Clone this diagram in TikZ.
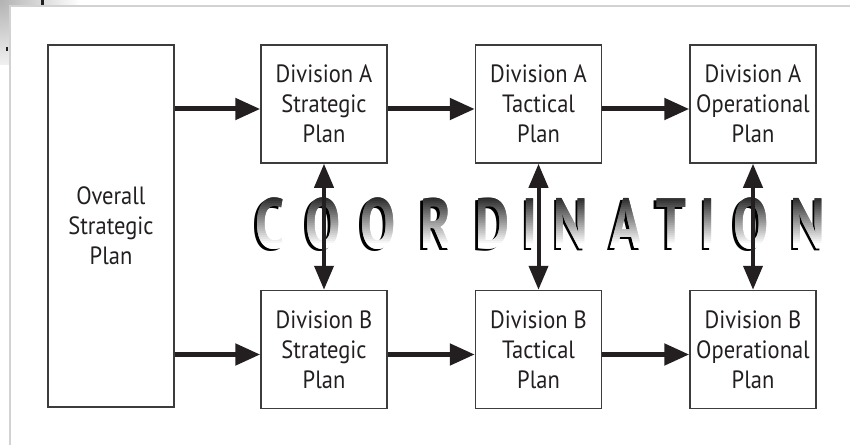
\documentclass[tikz,border=0pt]{standalone}
\usepackage{fontspec}
\setmainfont{PT Sans}[FakeStretch=0.9]
\newfontfamily\coordfont{PT Sans Bold}[FakeStretch=0.74]
\usetikzlibrary{arrows.meta,positioning}
\definecolor{ink}{HTML}{231F20}
\definecolor{edge}{HTML}{3C3C3C}
\definecolor{frame}{HTML}{D2D2D2}
\tikzset{
  plan/.style={
    draw=edge,
    line width=1.5pt,
    fill=white,
    minimum width=126pt,
    minimum height=118pt,
    inner sep=0pt,
    align=center,
    font=\fontsize{25}{30}\selectfont,
    text=ink,
  },
  flow/.style={ink, line width=5pt, -{Triangle[length=25pt,width=21pt]}},
  sync/.style={ink, line width=4pt,
    {Triangle[length=24pt,width=19pt]}-{Triangle[length=24pt,width=19pt]}},
  letter/.style={font=\coordfont\fontsize{71}{71}\selectfont, inner sep=0pt, anchor=base},
}
\def\coordletters{C/270,O/323,O/378,R/436,D/492,I/530,N/571,A/626,T/671,I/708,O/751,N/808}

\begin{document}
\begin{tikzpicture}[x=1pt,y=1pt]
  \useasboundingbox (0,0) rectangle (850,445);

  % page corner and frame
  \begin{scope}
    \clip (0,445) -- (85,445) -- (85,440) -- (9,440) -- (9,380) -- (0,380) -- cycle;
    \shade[inner color=gray!60, outer color=white] (0,445) circle (80);
  \end{scope}
  \fill[ink] (41,440) rectangle (44,445);
  \fill[ink] (6,394) rectangle (8,398);
  \draw[frame, line width=2.5pt] (9,439) -- (850,439);
  \draw[frame, line width=2.5pt] (10,439) -- (10,0);

  % plans
  \node[plan, minimum height=362pt] (overall) at (111,219) {Overall\\Strategic\\Plan};
  \node[plan] (a1) at (324,341) {Division A\\Strategic\\Plan};
  \node[plan, right=87pt of a1] (a2) {Division A\\Tactical\\Plan};
  \node[plan, right=87pt of a2] (a3) {Division A\\Operational\\Plan};
  \node[plan, below=126pt of a1] (b1) {Division B\\Strategic\\Plan};
  \node[plan, right=87pt of b1] (b2) {Division B\\Tactical\\Plan};
  \node[plan, right=87pt of b2] (b3) {Division B\\Operational\\Plan};

  % COORDINATION: shadow, then graded letters in thin bands
  \foreach \ch/\x [count=\i] in \coordletters {
    \node[letter, text=black] (s\i) at (\x-2.5,194.5) {\ch};
  }
  \foreach \k in {0,...,27} {
    \pgfmathsetmacro\g{max(0,84*(\k-4)/23)}
    \begin{scope}
      \clip (0,{193+2*\k}) rectangle (850,{195.2+2*\k});
      \foreach \ch/\x in \coordletters {
        \node[letter, text=black!\g] at (\x,197) {\ch};
      }
    \end{scope}
  }

  % flow
  \foreach \n in {a1,a2,a3,b1,b2,b3} {
    \coordinate (in-\n) at ([yshift=-5pt]\n.west);
    \coordinate (out-\n) at ([yshift=-5pt]\n.east);
  }
  \draw[flow] (overall.east |- in-a1) -- (in-a1);
  \draw[flow] (overall.east |- in-b1) -- (in-b1);
  \draw[flow] (out-a1) -- (in-a2);
  \draw[flow] (out-a2) -- (in-a3);
  \draw[flow] (out-b1) -- (in-b2);
  \draw[flow] (out-b2) -- (in-b3);

  % coordination between divisions
  \draw[sync] (a1.south) -- (b1.north);
  \draw[sync] (a2.south) -- (b2.north);
  \draw[sync] (a3.south) -- (b3.north);
\end{tikzpicture}
\end{document}
